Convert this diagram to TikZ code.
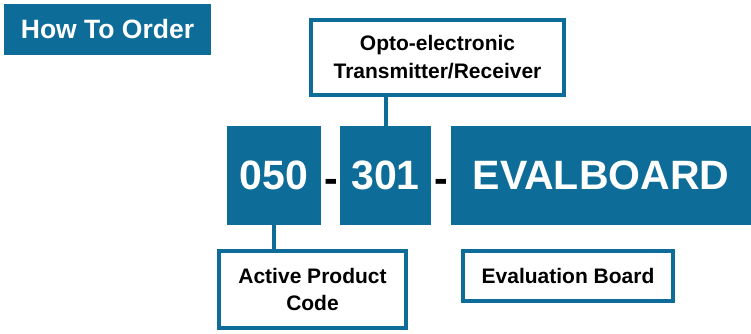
\documentclass[tikz,border=0pt]{standalone}
\usepackage{fontspec}
\setmainfont{Liberation Sans}
\usetikzlibrary{calc}
\definecolor{orderblue}{RGB}{14,109,152}

\begin{document}
\begin{tikzpicture}[x=1pt,y=-1pt,
    codebox/.style ={fill=orderblue, text=white, inner sep=0pt, minimum height=99pt,
                     font=\fontsize{41}{41}\selectfont\bfseries},
    namebox/.style ={draw=orderblue, line width=4pt, fill=white, inner sep=0pt, align=center,
                     font=\fontsize{21}{27}\selectfont\bfseries},
    link/.style ={draw=orderblue, line width=4pt}]
   \useasboundingbox (0,0) rectangle (751,333);
   \node[fill=orderblue, text=white, inner sep=0pt, minimum width=207pt, minimum height=51pt,
         font=\fontsize{26.5}{26.5}\selectfont\bfseries] (howto) at (107.5,29.5) {How To Order};
   \node[namebox, minimum width=253pt, minimum height=75pt,
         font=\fontsize{21}{28}\selectfont\bfseries] (tx) at (437.5,57.5)
        {Opto-electronic\\Transmitter/Receiver};
   \node[codebox, minimum width=94pt] (c050) at (274,175.5) {050};
   \node[codebox, minimum width=91pt] (c301) at (385.5,175.5) {301};
   \node[codebox, minimum width=300pt] (ceval) at (601,175.5) {EVALBOARD};
   \node[inner sep=0pt, font=\fontsize{41}{41}\selectfont\bfseries] (d1) at (331,186) {-};
   \node[inner sep=0pt, font=\fontsize{41}{41}\selectfont\bfseries] (d2) at (441.5,186) {-};
   \node[namebox, minimum width=187pt, minimum height=77pt] (apc) at (312.5,289.5)
        {Active Product\\Code};
   \node[namebox, minimum width=210pt, minimum height=50pt] (evb) at (568,276)
        {Evaluation Board};
   \draw[link] (tx.south -| c301.north) to (c301.north);
   \draw[link] (c050.south) to (c050.south |- apc.north);
   \draw[link] ($(evb.north west)!0.25!(evb.north east)$ |- ceval.south)
        to ($(evb.north west)!0.25!(evb.north east)$);
\end{tikzpicture}
\end{document}
